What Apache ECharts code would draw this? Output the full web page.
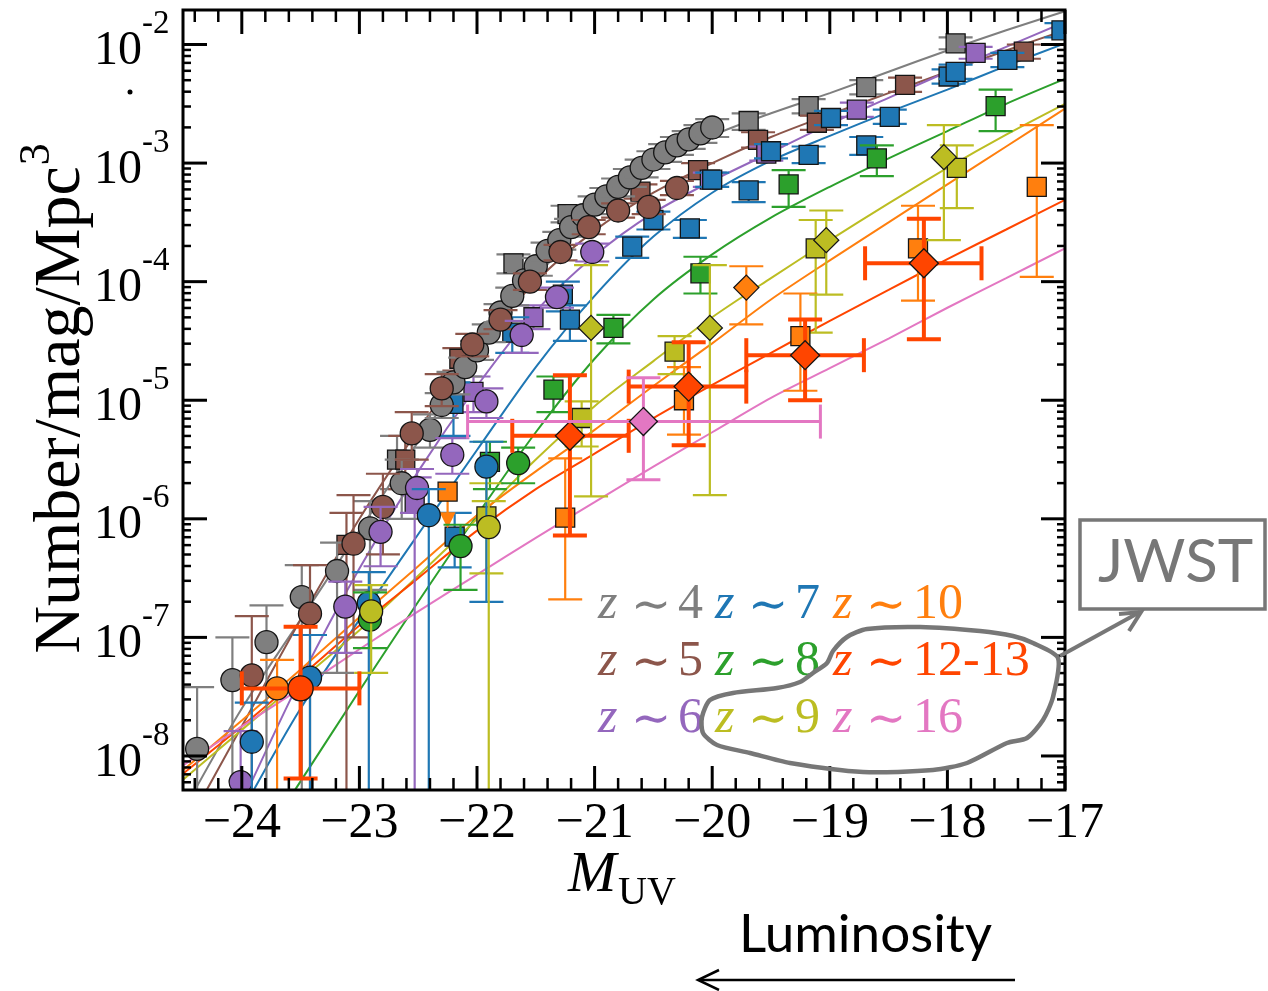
<!DOCTYPE html>
<html><head><meta charset="utf-8">
<script src="https://cdn.jsdelivr.net/npm/echarts@6/dist/echarts.min.js"></script>
<style>html,body{margin:0;padding:0;background:#fff}#c{width:1268px;height:991px}</style>
</head><body><div id="c"></div>
<script>
// ---------------- axis ranges / ticks ----------------
const X_MIN = -24.5, X_MAX = -17;          // M_UV
const Y_MIN = -8.287, Y_MAX = -1.709;      // log10(phi)
const xMajorTicks = [-24, -23, -22, -21, -20, -19, -18, -17];
const xTickLabels = ['\u221224', '\u221223', '\u221222', '\u221221', '\u221220', '\u221219', '\u221218', '\u221217'];
const yMajorExps = [-8, -7, -6, -5, -4, -3, -2];
const yTickSup = ['-8', '-7', '-6', '-5', '-4', '-3', '-2'];

// ---------------- colors ----------------
const C4 = '#7f7f7f', C5 = '#8c564b', C6 = '#9467bd', C7 = '#1f77b4', C8 = '#2ca02c',
      C9 = '#bcbd22', C10 = '#ff7f0e', C12 = '#ff4500', C16 = '#e377c2';

// ---------------- data points: [M_UV, log10 phi, log10 phi low, log10 phi high, (M low, M high)] ----------------
const z4Circles = [
  [-24.38,-7.94,-9,-7.42],[-24.08,-7.36,-9,-7.0],[-23.79,-7.04,-9,-6.73],[-23.49,-6.66,-9,-6.39],
  [-23.19,-6.44,-7.3,-6.2],[-22.91,-6.08,-6.6,-5.85],[-22.64,-5.70,-6.0,-5.5],[-22.4,-5.25,-5.4,-5.12],
  [-22.3,-5.04,-5.15,-4.94],[-22.2,-4.85,-4.95,-4.76],[-22.1,-4.72,-4.8,-4.64],[-22.0,-4.58,-4.66,-4.5],
  [-21.9,-4.43,-4.51,-4.36],[-21.8,-4.26,-4.34,-4.19],[-21.7,-4.12,-4.2,-4.05],[-21.6,-3.99,-4.07,-3.92],
  [-21.5,-3.87,-3.95,-3.8],[-21.4,-3.74,-3.82,-3.67],[-21.3,-3.65,-3.73,-3.58],[-21.2,-3.54,-3.62,-3.47],
  [-21.1,-3.44,-3.52,-3.37],[-21.0,-3.35,-3.43,-3.28],[-20.9,-3.28,-3.36,-3.21],[-20.8,-3.20,-3.28,-3.13],
  [-20.7,-3.12,-3.2,-3.05],[-20.6,-3.04,-3.12,-2.97],[-20.5,-2.97,-3.05,-2.9],[-20.4,-2.91,-2.99,-2.84],
  [-20.3,-2.85,-2.93,-2.78],[-20.2,-2.80,-2.88,-2.73],[-20.1,-2.75,-2.83,-2.68],[-20.0,-2.70,-2.78,-2.63]
];
const z4Squares = [
  [-22.68,-5.50,-5.75,-5.3],[-21.69,-3.845,-3.93,-3.77],[-21.23,-3.43,-3.5,-3.36],[-19.69,-2.645,-2.72,-2.58],
  [-19.18,-2.52,-2.58,-2.46],[-18.69,-2.36,-2.42,-2.3],[-17.93,-1.99,-2.04,-1.94]
];
const z5Circles = [
  [-23.915,-7.32,-9,-6.82],[-23.42,-6.80,-9,-6.39],[-23.05,-6.21,-7.0,-5.80],[-22.80,-5.90,-6.3,-5.62],
  [-22.555,-5.28,-5.5,-5.1],[-22.30,-4.90,-5.05,-4.78],[-22.04,-4.53,-4.63,-4.44],[-21.80,-4.32,-4.4,-4.24],
  [-21.55,-4.00,-4.07,-3.93],[-21.29,-3.75,-3.82,-3.69],[-21.05,-3.54,-3.6,-3.48],[-20.80,-3.40,-3.46,-3.34],
  [-20.54,-3.37,-3.43,-3.31],[-20.30,-3.21,-3.27,-3.15]
];
const z5Squares = [
  [-23.11,-6.22,-9,-5.95],[-22.61,-5.50,-5.75,-5.3],[-22.15,-4.65,-4.75,-4.56],[-20.61,-3.24,-3.3,-3.18],
  [-20.12,-3.06,-3.12,-3.0],[-19.61,-2.805,-2.87,-2.74],[-19.11,-2.66,-2.72,-2.6],[-18.36,-2.34,-2.4,-2.28],
  [-17.35,-2.06,-2.12,-2.0]
];
const z6Circles = [
  [-24.01,-8.22,-9,-7.79],[-23.12,-6.74,-7.13,-6.53],[-22.82,-6.11,-6.4,-5.9],[-22.51,-5.74,-5.95,-5.58],
  [-22.21,-5.46,-5.62,-5.32],[-21.92,-5.01,-5.15,-4.9],[-21.62,-4.45,-4.6,-4.33],[-21.32,-4.13,-4.22,-4.05],
  [-21.02,-3.75,-3.83,-3.68]
];
const z6Squares = [
  [-22.53,-5.87,-9,-5.65],[-22.03,-4.93,-5.1,-4.8],[-21.52,-4.30,-4.4,-4.2],[-20.02,-3.14,-3.2,-3.08],
  [-19.54,-2.92,-2.98,-2.86],[-18.77,-2.55,-2.61,-2.49],[-17.76,-2.07,-2.12,-2.02]
];
const z7Circles = [
  [-23.915,-7.88,-9,-7.55],[-23.42,-7.34,-9,-6.98],[-22.92,-6.71,-9,-6.45],[-22.41,-5.97,-9,-5.75],
  [-21.92,-5.56,-6.70,-5.35]
];
const z7Squares = [
  [-22.2,-5.03,-5.3,-4.85],[-22.19,-6.15,-6.41,-5.95],[-21.70,-4.43,-4.6,-4.3],[-21.27,-4.11,-4.25,-4.0],
  [-21.21,-4.32,-4.5,-4.2],[-20.68,-3.705,-3.8,-3.62],[-20.50,-3.48,-3.56,-3.41],[-20.19,-3.55,-3.63,-3.48],
  [-20.0,-3.14,-3.2,-3.08],[-19.69,-3.23,-3.33,-3.16],[-19.50,-2.90,-2.96,-2.84],[-19.18,-2.93,-3.0,-2.86],
  [-18.99,-2.62,-2.68,-2.56],[-18.69,-2.85,-2.93,-2.78],[-18.49,-2.61,-2.67,-2.55],[-17.99,-2.27,-2.33,-2.21],
  [-17.93,-2.23,-2.29,-2.17],[-17.49,-2.13,-2.19,-2.07],[-17.03,-1.88,-1.94,-1.82]
];
const z8Circles = [
  [-22.91,-6.85,-7.09,-6.62],[-22.14,-6.23,-6.60,-6.05],[-21.65,-5.53,-5.70,-5.40]
];
const z8Squares = [
  [-21.89,-5.52,-5.75,-5.35],[-21.35,-4.91,-5.10,-4.80],[-20.84,-4.39,-4.52,-4.28],[-20.10,-3.93,-4.10,-3.79],
  [-19.35,-3.18,-3.37,-3.06],[-18.60,-2.96,-3.11,-2.85],[-17.59,-2.52,-2.73,-2.38]
];
const z9Circles = [
  [-22.90,-6.78,-7.30,-6.56],[-21.90,-6.07,-9,-5.85]
];
const z9Squares = [
  [-21.92,-5.98,-6.46,-5.70],[-21.11,-5.15,-5.39,-5.01],[-20.32,-4.59,-4.78,-4.46],[-19.12,-3.72,-4.43,-3.48],
  [-17.92,-3.04,-3.38,-2.85]
];
const z9Diamonds = [
  [-21.03,-4.39,-5.81,-3.86],[-20.02,-4.39,-5.80,-3.86],[-19.03,-3.65,-4.11,-3.40],[-18.03,-2.95,-3.65,-2.68]
];
const z10Circles = [[-23.70,-7.43,-9,-7.19]];
const z10Squares = [
  [-21.25,-5.99,-6.68,-5.49],[-20.24,-5.00,-5.29,-4.72],[-19.25,-4.46,-4.92,-4.10],[-18.25,-3.72,-4.16,-3.36],
  [-17.24,-3.20,-3.96,-2.68]
];
const z10UpperLimits = [[-22.25,-5.77,-6.08]];   // [M, log phi, arrow tip]
const z10Diamonds = [[-19.71,-4.05,-4.36,-3.87]];
const z12Circles = [[-23.50,-7.43,-8.19,-6.91,-24.0,-23.0]];
const z12Diamonds = [
  [-21.21,-5.30,-6.14,-4.79,-21.70,-20.71],[-20.20,-4.885,-5.38,-4.51,-20.71,-19.71],
  [-19.21,-4.62,-5.00,-4.32,-19.71,-18.71],[-18.20,-3.845,-4.485,-3.47,-18.70,-17.71]
];
const z16Diamonds = [[-20.585,-5.18,-5.67,-4.81,-22.08,-19.08]];

// ---------------- fitted curves: [M_UV, log10 phi] ----------------
const z4Fit = [[-24.4,-8.29],[-24,-7.6],[-23.5,-6.85],[-23,-6.1],[-22.5,-5.35],[-22,-4.62],[-21.5,-3.97],[-21,-3.43],[-20.5,-3.04],[-20,-2.77],[-19.5,-2.58],[-19,-2.41],[-18.5,-2.23],[-18,-2.05],[-17.5,-1.88],[-17,-1.72]];
const z5Fit = [[-24.3,-8.29],[-24,-7.75],[-23.5,-6.85],[-23,-6.0],[-22.5,-5.25],[-22,-4.57],[-21.5,-4.0],[-21,-3.57],[-20.5,-3.25],[-20,-3.0],[-19.5,-2.78],[-19,-2.59],[-18.5,-2.41],[-18,-2.23],[-17.5,-2.05],[-17,-1.88]];
const z6Fit = [[-23.95,-8.29],[-23.5,-7.35],[-23,-6.42],[-22.5,-5.6],[-22,-4.88],[-21.5,-4.25],[-21,-3.78],[-20.5,-3.42],[-20,-3.15],[-19.5,-2.91],[-19,-2.67],[-18.5,-2.45],[-18,-2.23],[-17.5,-2.02],[-17,-1.81]];
const z7Fit = [[-23.9,-8.29],[-23.5,-7.6],[-23,-6.85],[-22.5,-6.13],[-22,-5.42],[-21.5,-4.72],[-21,-4.12],[-20.5,-3.62],[-20,-3.25],[-19.5,-2.98],[-19,-2.77],[-18.5,-2.57],[-18,-2.38],[-17.5,-2.18],[-17,-1.99]];
const z8Fit = [[-23.55,-8.29],[-23,-7.45],[-22.5,-6.7],[-22,-5.97],[-21.5,-5.27],[-21,-4.65],[-20.5,-4.15],[-20,-3.77],[-19.5,-3.46],[-19,-3.2],[-18.5,-2.96],[-18,-2.73],[-17.5,-2.5],[-17,-2.29]];
const z9Fit = [[-24.5,-8.2],[-24,-7.78],[-23.5,-7.36],[-23,-6.94],[-22.5,-6.48],[-22,-6.0],[-21.5,-5.5],[-21,-5.05],[-20.5,-4.67],[-20,-4.3],[-19.5,-3.97],[-19,-3.65],[-18.5,-3.34],[-18,-3.04],[-17.5,-2.76],[-17,-2.5]];
const z10Fit = [[-24.5,-8.12],[-24,-7.7],[-23.5,-7.27],[-23,-6.83],[-22.5,-6.4],[-22,-5.97],[-21.5,-5.6],[-21,-5.25],[-20.5,-4.88],[-20,-4.52],[-19.5,-4.15],[-19,-3.82],[-18.5,-3.5],[-18,-3.18],[-17.5,-2.86],[-17,-2.54]];
const z12Fit = [[-24.5,-8.15],[-24,-7.75],[-23.5,-7.33],[-23,-6.9],[-22.5,-6.5],[-22,-6.1],[-21.5,-5.75],[-21,-5.45],[-20.5,-5.15],[-20,-4.87],[-19.5,-4.6],[-19,-4.33],[-18.5,-4.07],[-18,-3.81],[-17.5,-3.56],[-17,-3.31]];
const z16Fit = [[-24.5,-8.08],[-24,-7.75],[-23.5,-7.43],[-23,-7.1],[-22.5,-6.78],[-22,-6.47],[-21.5,-6.16],[-21,-5.86],[-20.5,-5.56],[-20,-5.27],[-19.5,-4.98],[-19,-4.73],[-18.5,-4.48],[-18,-4.22],[-17.5,-3.97],[-17,-3.72]];

// ---------------- legend ----------------
const legendRows = [
  [['4', C4], ['7', C7], ['10', C10]],
  [['5', C5], ['8', C8], ['12-13', C12]],
  [['6', C6], ['9', C9], ['16', C16]]
];

// =====================================================================
const SERIF = '"Liberation Serif", "DejaVu Serif", serif';
const SANS = 'Lato, "Open Sans", sans-serif';
const chart = echarts.init(document.getElementById('c'), null, {renderer: 'canvas'});

function marker(shape, c, s, color, ew) {
  const style = {fill: color, stroke: '#151515', lineWidth: ew};
  if (shape === 'circle') return {type: 'circle', shape: {cx: c[0], cy: c[1], r: s / 2}, style};
  if (shape === 'square') return {type: 'rect', shape: {x: c[0] - s / 2, y: c[1] - s / 2, width: s, height: s}, style};
  return {type: 'polygon', shape: {points: [[c[0], c[1] - s / 2], [c[0] + s / 2, c[1]], [c[0], c[1] + s / 2], [c[0] - s / 2, c[1]]]}, style};
}

function errSeries(rows, color, shape, size, opt) {
  opt = opt || {};
  const lw = opt.lw || 2.2, cap = opt.cap || 17, ew = opt.ew || 1.3;
  return {
    type: 'custom', coordinateSystem: 'cartesian2d', clip: true, z: 3, silent: true, animation: false,
    data: rows.map(r => [r[0], r[1]]),
    renderItem: function (params, api) {
      const r = rows[params.dataIndex];
      const c = api.coord([r[0], r[1]]);
      const kids = [];
      const st = {stroke: color, lineWidth: lw};
      if (r.length > 3) {
        const loV = Math.max(r[2], Y_MIN - 0.3), hiV = Math.min(r[3], Y_MAX + 0.3);
        const pLo = api.coord([r[0], loV]), pHi = api.coord([r[0], hiV]);
        kids.push({type: 'line', shape: {x1: c[0], y1: pLo[1], x2: c[0], y2: pHi[1]}, style: st});
        if (r[2] > Y_MIN) kids.push({type: 'line', shape: {x1: c[0] - cap, y1: pLo[1], x2: c[0] + cap, y2: pLo[1]}, style: st});
        kids.push({type: 'line', shape: {x1: c[0] - cap, y1: pHi[1], x2: c[0] + cap, y2: pHi[1]}, style: st});
      }
      if (r.length > 5) {
        const pL = api.coord([r[4], r[1]]), pR = api.coord([r[5], r[1]]);
        kids.push({type: 'line', shape: {x1: pL[0], y1: c[1], x2: pR[0], y2: c[1]}, style: st});
        kids.push({type: 'line', shape: {x1: pL[0], y1: c[1] - cap, x2: pL[0], y2: c[1] + cap}, style: st});
        kids.push({type: 'line', shape: {x1: pR[0], y1: c[1] - cap, x2: pR[0], y2: c[1] + cap}, style: st});
      }
      kids.push(marker(shape, c, size, color, ew));
      return {type: 'group', children: kids};
    }
  };
}

function limitSeries(rows, color, size) {
  return {
    type: 'custom', coordinateSystem: 'cartesian2d', clip: true, z: 3, silent: true, animation: false,
    data: rows.map(r => [r[0], r[1]]),
    renderItem: function (params, api) {
      const r = rows[params.dataIndex];
      const c = api.coord([r[0], r[1]]);
      const tip = api.coord([r[0], r[2]]);
      return {type: 'group', children: [
        {type: 'line', shape: {x1: c[0], y1: c[1], x2: c[0], y2: tip[1] - 10}, style: {stroke: color, lineWidth: 2.2}},
        {type: 'polygon', shape: {points: [[c[0] - 8, tip[1] - 16], [c[0] + 8, tip[1] - 16], [c[0], tip[1]]]}, style: {fill: color}},
        marker('square', c, size, color, 1.3)
      ]};
    }
  };
}

function fitSeries(pts, color) {
  return {type: 'line', data: pts, showSymbol: false, symbol: 'none', smooth: 0.3, clip: true,
          lineStyle: {color, width: 2}, z: 2, silent: true, animation: false};
}

function decorSeries() {
  return {
    type: 'custom', coordinateSystem: 'cartesian2d', clip: false, z: 10, silent: true, animation: false,
    data: [[X_MIN, Y_MIN]],
    renderItem: function (params, api) {
      const kids = [];
      const bl = api.coord([X_MIN, Y_MIN]), tr = api.coord([X_MAX, Y_MAX]);
      const L = bl[0], B = bl[1], R = tr[0], T = tr[1];
      const ln = (x1, y1, x2, y2, w) => kids.push({type: 'line', shape: {x1, y1, x2, y2}, style: {stroke: '#000', lineWidth: w}});
      xMajorTicks.forEach((v, i) => {
        const x = api.coord([v, Y_MIN])[0];
        ln(x, B, x, B - 24, 3); ln(x, T, x, T + 24, 3);
        kids.push({type: 'text', x: x, y: B + 9, style: {text: xTickLabels[i], font: '50px ' + SERIF, fill: '#000', align: 'center', verticalAlign: 'top'}});
      });
      for (let k = Math.ceil(X_MIN * 5); k <= Math.floor(X_MAX * 5); k++) {
        if (k % 5 === 0) continue;
        const x = api.coord([k / 5, Y_MIN])[0];
        ln(x, B, x, B - 12, 2.5); ln(x, T, x, T + 12, 2.5);
      }
      yMajorExps.forEach((e, i) => {
        const y = api.coord([X_MIN, e])[1];
        ln(L, y, L + 24, y, 3); ln(R, y, R - 24, y, 3);
        kids.push({type: 'text', x: 142, y: y + 7, style: {text: '10', font: '48px ' + SERIF, fill: '#000', align: 'right', verticalAlign: 'middle'}});
        kids.push({type: 'text', x: 142, y: y - 20, style: {text: yTickSup[i], font: '33px ' + SERIF, fill: '#000', align: 'left', verticalAlign: 'middle'}});
      });
      for (let e = Math.floor(Y_MIN); e < Math.ceil(Y_MAX); e++) {
        for (let d = 2; d <= 9; d++) {
          const v = e + Math.log10(d);
          if (v < Y_MIN || v > Y_MAX) continue;
          const y = api.coord([X_MIN, v])[1];
          ln(L, y, L + 8, y, 2.5); ln(R, y, R - 8, y, 2.5);
        }
      }
      kids.push({type: 'rect', shape: {x: L, y: T, width: R - L, height: B - T}, style: {fill: 'none', stroke: '#000', lineWidth: 3}});
      return {type: 'group', children: kids};
    }
  };
}

// legend: "z", "∼", number placed as separate text pieces
const legendGraphic = [];
const colX = [598, 715, 833], rowY = [605, 662, 719];
legendRows.forEach((row, ri) => row.forEach((it, ci) => {
  const x0 = colX[ci], y0 = rowY[ri], col = it[1];
  legendGraphic.push({type: 'text', x: x0, y: y0, silent: true, z: 15,
    style: {text: 'z', font: 'italic 50px ' + SERIF, fill: col, align: 'left', verticalAlign: 'middle'}});
  legendGraphic.push({type: 'text', x: x0 + 33, y: y0 + 3, silent: true, z: 15,
    style: {text: '\u223C', font: '48px "DejaVu Serif", serif', fill: col, align: 'left', verticalAlign: 'middle'}});
  legendGraphic.push({type: 'text', x: x0 + 80, y: y0, silent: true, z: 15,
    style: {text: it[0], font: '50px ' + SERIF, fill: col, align: 'left', verticalAlign: 'middle'}});
}));

// hand-drawn loop around the JWST results (annotation)
const loopPts = [[1058,658],[1033,643],[1013,636],[980,631],[920,627],[867,629],[847,637],[833,651],[827,663],[813,673],[800,682],[777,688],[733,693],[710,700],[702,717],[703,733],[717,745],[750,753],[790,763],[863,772],[933,770],[967,763],[1007,743],[1027,738],[1043,720],[1053,697]];

const TITLE_FONT = '66px ' + SERIF;
const graphics = [
  {type: 'circle', shape: {cx: 130, cy: 92, r: 2.5}, style: {fill: '#000'}, silent: true},
  {type: 'text', x: 60, y: 400, rotation: Math.PI / 2, silent: true,
   style: {text: 'Number/mag/Mpc', font: TITLE_FONT, fill: '#000', align: 'center', verticalAlign: 'middle'}},
  {type: 'text', x: 36, y: 160, rotation: Math.PI / 2, silent: true,
   style: {text: '3', font: '44px ' + SERIF, fill: '#000', align: 'left', verticalAlign: 'middle'}},
  {type: 'text', x: 568, y: 876, silent: true, style: {text: 'M', font: 'italic 58px ' + SERIF, fill: '#000', align: 'left', verticalAlign: 'middle'}},
  {type: 'text', x: 618, y: 893, silent: true, style: {text: 'UV', font: '40px ' + SERIF, fill: '#000', align: 'left', verticalAlign: 'middle'}},
  {type: 'text', x: 739, y: 935, silent: true, style: {text: 'Luminosity', font: '53px ' + SANS, fill: '#000', align: 'left', verticalAlign: 'middle'}},
  {type: 'line', shape: {x1: 1015, y1: 980, x2: 699, y2: 980}, style: {stroke: '#000', lineWidth: 2.5}, silent: true},
  {type: 'polyline', shape: {points: [[719, 970], [698, 980], [719, 990]]}, style: {stroke: '#000', lineWidth: 2.5, fill: 'none'}, silent: true},
  {type: 'polygon', shape: {points: loopPts, smooth: 0.25}, style: {stroke: '#777', lineWidth: 4.5, fill: 'none'}, silent: true, z: 20},
  {type: 'line', shape: {x1: 1060, y1: 656, x2: 1140, y2: 612}, style: {stroke: '#777', lineWidth: 4}, silent: true, z: 20},
  {type: 'polyline', shape: {points: [[1119, 614], [1141, 612], [1129, 631]]}, style: {stroke: '#777', lineWidth: 4, fill: 'none'}, silent: true, z: 20},
  {type: 'rect', shape: {x: 1080, y: 520, width: 185, height: 89}, style: {stroke: '#777', lineWidth: 3.5, fill: 'none'}, silent: true},
  {type: 'text', x: 1098, y: 563, silent: true, style: {text: 'JWST', font: '60px ' + SANS, fill: '#777', align: 'left', verticalAlign: 'middle'}}
].concat(legendGraphic);

// place the superscript "3" right after "Mpc" using measured width
(function () {
  const cv = document.createElement('canvas').getContext('2d');
  cv.font = TITLE_FONT;
  const w = cv.measureText('Number/mag/Mpc').width;
  const cx = 62, cy = 410;
  graphics[1].x = cx; graphics[1].y = cy;
  graphics[2].x = cx - 25; graphics[2].y = cy - w / 2 - 1;
})();

chart.setOption({
  animation: false,
  backgroundColor: '#fff',
  grid: {left: 183, top: 10, width: 882, height: 780, show: false},
  xAxis: {type: 'value', min: X_MIN, max: X_MAX, show: false},
  yAxis: {type: 'value', min: Y_MIN, max: Y_MAX, show: false},
  graphic: graphics,
  series: [
    fitSeries(z4Fit, C4), fitSeries(z5Fit, C5), fitSeries(z6Fit, C6), fitSeries(z7Fit, C7), fitSeries(z8Fit, C8),
    fitSeries(z9Fit, C9), fitSeries(z10Fit, C10), fitSeries(z12Fit, C12), fitSeries(z16Fit, C16),
    errSeries(z4Squares, C4, 'square', 19), errSeries(z5Squares, C5, 'square', 19), errSeries(z6Squares, C6, 'square', 19),
    errSeries(z7Squares, C7, 'square', 19), errSeries(z8Squares, C8, 'square', 19), errSeries(z9Squares, C9, 'square', 19),
    errSeries(z10Squares, C10, 'square', 19), limitSeries(z10UpperLimits, C10, 19),
    errSeries(z4Circles, C4, 'circle', 23), errSeries(z5Circles, C5, 'circle', 23), errSeries(z6Circles, C6, 'circle', 23),
    errSeries(z7Circles, C7, 'circle', 23), errSeries(z8Circles, C8, 'circle', 23), errSeries(z9Circles, C9, 'circle', 23),
    errSeries(z10Circles, C10, 'circle', 23), errSeries(z12Circles, C12, 'circle', 25, {lw: 4, cap: 17}),
    errSeries(z9Diamonds, C9, 'diamond', 25), errSeries(z10Diamonds, C10, 'diamond', 25),
    errSeries(z12Diamonds, C12, 'diamond', 29, {lw: 4, cap: 17}), errSeries(z16Diamonds, C16, 'diamond', 28, {lw: 3, cap: 17}),
    decorSeries()
  ]
});
</script>
</body></html>
